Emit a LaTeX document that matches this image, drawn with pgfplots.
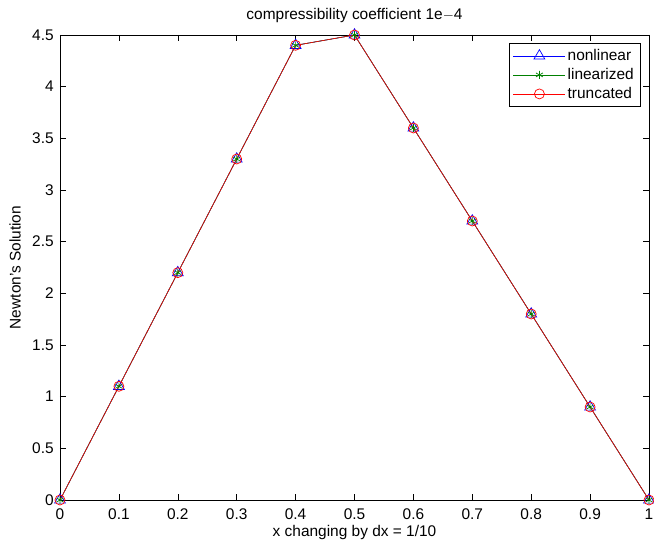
\documentclass[border=0pt]{standalone}
\usepackage{fontspec}
\setmainfont{Liberation Sans}
\usepackage{pgfplots}
\pgfplotsset{compat=1.18}

\begin{document}
\fontsize{15.5}{18}\selectfont
\begin{tikzpicture}
\useasboundingbox (-60bp,-41bp) rectangle (594bp,500bp);
\begin{axis}[
    at={(0,0)}, anchor=south west,
    scale only axis,
    width=589bp, height=465bp,
    xmin=0, xmax=1, ymin=0, ymax=4.5,
    xtick={0,0.1,...,1}, ytick={0,0.5,...,4.5},
    xticklabels={0,0.1,0.2,0.3,0.4,0.5,0.6,0.7,0.8,0.9,1},
    yticklabels={0,0.5,1,1.5,2,2.5,3,3.5,4,4.5},
    tick align=inside, tick pos=both,
    major tick length=6bp,
    tick style={black, line width=0.5pt},
    axis line style={line width=0.6pt},
    xticklabel style={anchor=center, yshift=-14bp},
    yticklabel style={anchor=east, xshift=-1bp},
    title={compressibility coefficient 1e$-$4},
    title style={at={(axis description cs:0.5,1.028)}, anchor=center},
    xlabel={x changing by dx = 1/10},
    ylabel={Newton's Solution},
    xlabel style={at={(axis description cs:0.5,-0.069)}, anchor=center},
    ylabel style={at={(axis description cs:-0.0764,0.5)}, anchor=center, rotate=0},
    legend style={at={(0.9847,0.9828)}, anchor=north east,
        row sep=1.5bp, inner sep=4bp,
        font=\fontsize{15.5}{17}\selectfont},
    legend cell align=left,
    legend image code/.code={
        \draw[mark repeat=2,mark phase=2,#1] plot coordinates {(0bp,0bp) (26bp,0bp) (52bp,0bp)};
    },
]
\addplot[blue, line width=0.6pt, mark=triangle, mark size=6.3bp, mark options={line width=0.7pt}]
  coordinates {(0,0) (0.1,1.1) (0.2,2.2) (0.3,3.3) (0.4,4.4) (0.5,4.5) (0.6,3.6) (0.7,2.7) (0.8,1.8) (0.9,0.9) (1,0)};
\addlegendentry{nonlinear}
\addplot[green!50!black, line width=0.6pt, mark=asterisk, mark size=4bp, mark options={line width=0.7pt}]
  coordinates {(0,0) (0.1,1.1) (0.2,2.2) (0.3,3.3) (0.4,4.4) (0.5,4.5) (0.6,3.6) (0.7,2.7) (0.8,1.8) (0.9,0.9) (1,0)};
\addlegendentry{linearized}
\addplot[red, line width=0.6pt, mark=o, mark size=5bp, mark options={line width=0.7pt}]
  coordinates {(0,0) (0.1,1.1) (0.2,2.2) (0.3,3.3) (0.4,4.4) (0.5,4.5) (0.6,3.6) (0.7,2.7) (0.8,1.8) (0.9,0.9) (1,0)};
\addlegendentry{truncated}
\end{axis}
\end{tikzpicture}
\end{document}
